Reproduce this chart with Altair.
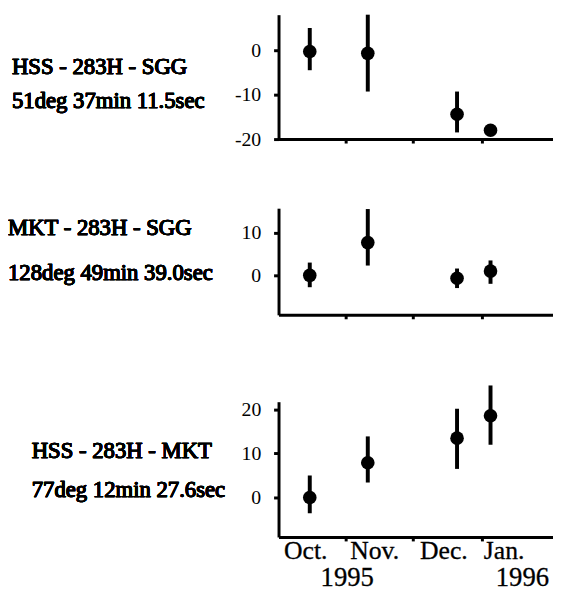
import altair as alt
import pandas as pd

# observation days, counted from 1 Oct 1995 (= day 0)
obs_day = [15, 41, 81, 96]

# HSS - 283H - SGG
hss_sgg_val = [-0.3, -0.7, -14.4, -18.0]
hss_sgg_lo = [-4.5, -9.3, -18.5, -18.6]
hss_sgg_hi = [5.0, 8.0, -9.3, -17.4]

# MKT - 283H - SGG
mkt_sgg_val = [0.0, 7.7, -0.7, 1.0]
mkt_sgg_lo = [-2.8, 2.3, -3.0, -2.0]
mkt_sgg_hi = [3.0, 15.6, 1.6, 3.5]

# HSS - 283H - MKT
hss_mkt_val = [0.0, 7.9, 13.5, 18.6]
hss_mkt_lo = [-3.6, 3.4, 6.5, 12.0]
hss_mkt_hi = [5.0, 13.9, 20.2, 25.5]

panel_names = ["HSS - 283H - SGG", "MKT - 283H - SGG", "HSS - 283H - MKT"]
panel_angles = ["51deg 37min 11.5sec", "128deg 49min 39.0sec", "77deg 12min 27.6sec"]
panel_ticks = [[-20, -10, 0], [0, 10], [0, 10, 20]]

month_labels = ["Oct.", "Nov.", "Dec.", "Jan."]
month_label_day = [13.2, 44.1, 75.1, 102.1]
year_labels = ["1995", "1996"]
year_label_day = [31.8, 110.3]
month_start_day = [31, 61, 92]

X_DOMAIN = [1, 124]
FONT = "Liberation Serif"


def panel(vals, lo, hi, ydom, height, ticks, name, angle, label_x, label_ys, bottom=False):
    df = pd.DataFrame({"day": obs_day, "v": vals, "lo": lo, "hi": hi})
    yscale = alt.Scale(domain=ydom, nice=False, zero=False)
    yaxis = alt.Axis(values=ticks, title=None, grid=False, tickSize=5, labelPadding=13,
                     labelExpr="'' + datum.value")
    x = alt.X("day:Q", scale=alt.Scale(domain=X_DOMAIN, nice=False, zero=False),
              axis=alt.Axis(values=month_start_day, labels=False, title=None, grid=False,
                            tickSize=4, tickWidth=3))
    base = alt.Chart(df)
    bars = base.mark_rule(color="black", strokeWidth=4).encode(
        x=x, y=alt.Y("lo:Q", scale=yscale, axis=yaxis), y2="hi:Q")
    dots = base.mark_circle(color="black", size=190, opacity=1).encode(
        x=x, y=alt.Y("v:Q", scale=yscale, axis=yaxis))
    txt = dict(align="left", baseline="middle", font=FONT, fontSize=23,
               color="black", stroke="black", strokeWidth=0.6)
    t1 = base.mark_text(text=name, **txt).encode(
        x=alt.value(label_x), y=alt.value(label_ys[0]))
    t2 = base.mark_text(text=angle, **txt).encode(
        x=alt.value(label_x), y=alt.value(label_ys[1]))
    layers = [bars, dots, t1, t2]
    if bottom:
        mdf = pd.DataFrame({"day": month_label_day, "lab": month_labels})
        ydf = pd.DataFrame({"day": year_label_day, "lab": year_labels})
        months = alt.Chart(mdf).mark_text(font=FONT, fontSize=26, baseline="middle",
                                          color="black", stroke="black",
                                          strokeWidth=0.3).encode(
            x="day:Q", y=alt.value(height + 14), text="lab:N")
        years = alt.Chart(ydf).mark_text(font=FONT, fontSize=27, baseline="middle",
                                         color="black", stroke="black",
                                         strokeWidth=0.3).encode(
            x="day:Q", y=alt.value(height + 42), text="lab:N")
        layers += [months, years]
    return alt.layer(*layers).properties(width=278, height=height)


p1 = panel(hss_sgg_val, hss_sgg_lo, hss_sgg_hi, [-20, 8], 126, panel_ticks[0],
           panel_names[0], panel_angles[0], -270, [53, 88])
p2 = panel(mkt_sgg_val, mkt_sgg_lo, mkt_sgg_hi, [-9.3, 15.8], 108, panel_ticks[1],
           panel_names[1], panel_angles[1], -274, [20, 66])
p3 = panel(hss_mkt_val, hss_mkt_lo, hss_mkt_hi, [-9, 21.8], 137, panel_ticks[2],
           panel_names[2], panel_angles[2], -250, [50, 90], bottom=True)

top_two = alt.vconcat(p1, p2, spacing=58)
chart = alt.vconcat(top_two, p3, spacing=63).properties(
    padding={"left": 0, "right": 0, "top": 1, "bottom": 0}
).configure_view(stroke=None).configure_axis(
    domainColor="black", domainWidth=3, tickColor="black", tickWidth=3,
    labelFont=FONT, labelFontSize=20, labelColor="black"
)

chart.save("out.html", embed_options={"renderer": "svg", "actions": False})
